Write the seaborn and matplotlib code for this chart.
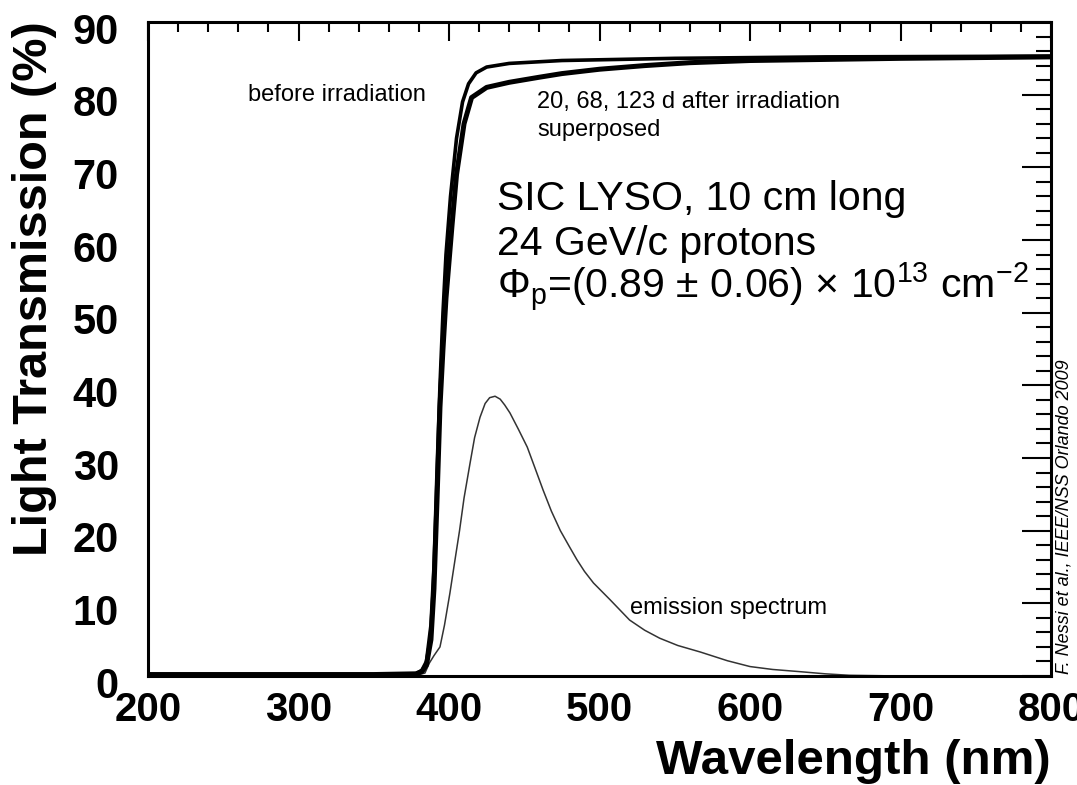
import matplotlib
matplotlib.use("Agg")
import matplotlib.pyplot as plt
from matplotlib.ticker import MultipleLocator
import matplotlib.transforms as mtransforms
import seaborn as sns
import pandas as pd

# ---- data ----
wl_before = [200, 250, 300, 350, 378, 382, 385, 388, 390, 392, 394, 396, 398, 401, 405, 409,
             413, 418, 425, 440, 475, 550, 650, 800]
tr_before = [0.2, 0.2, 0.2, 0.2, 0.3, 0.8, 2.0, 7.0, 15.0, 28.0, 40.0, 50.0, 58.0, 66.0, 74.0, 79.0,
             81.5, 83.0, 83.8, 84.3, 84.7, 85.0, 85.2, 85.3]

wl_after = [200, 250, 300, 350, 378, 382, 385, 388, 390, 392, 394, 396, 398, 402, 405, 410,
            415, 425, 440, 460, 475, 500, 530, 560, 600, 700, 800]
tr_after = [0.2, 0.2, 0.2, 0.2, 0.3, 0.6, 1.5, 5.0, 12.0, 24.0, 37.0, 45.0, 52.0, 62.0, 69.0, 76.0,
            79.6, 81.0, 81.7, 82.4, 82.9, 83.5, 84.0, 84.4, 84.7, 85.0, 85.2]

wl_emis = [200, 300, 370, 378, 384, 387, 390, 394, 397, 400.6, 404, 407, 410, 414, 417, 420.6, 424,
           427, 430.6, 434, 437, 440.5, 446, 452, 457, 462.5, 468, 474, 480, 485, 490, 496, 507,
           520, 530, 540, 552, 567, 585, 600, 615, 633, 650, 666, 700, 800]
em_emis = [0.0, 0.0, 0.0, 0.1, 0.4, 1.8, 2.8, 4.0, 7.0, 11.4, 16.0, 20.0, 24.5, 29.3, 32.8, 35.6, 37.5,
           38.3, 38.5, 38.1, 37.3, 36.2, 34.0, 31.5, 28.7, 25.6, 22.7, 20.0, 17.8, 16.0, 14.4, 12.8, 10.5,
           7.7, 6.3, 5.2, 4.2, 3.3, 2.1, 1.3, 0.9, 0.6, 0.3, 0.1, 0.0, 0.0]

x_ticks = [200, 300, 400, 500, 600, 700, 800]
y_ticks = [0, 10, 20, 30, 40, 50, 60, 70, 80, 90]

sns.set_style("white")
plt.rcParams['font.family'] = ['Liberation Sans', 'DejaVu Sans']
plt.rcParams['text.color'] = 'black'
plt.rcParams['xtick.color'] = 'black'
plt.rcParams['ytick.color'] = 'black'
plt.rcParams['mathtext.fontset'] = 'custom'
plt.rcParams['mathtext.rm'] = 'Liberation Sans'
plt.rcParams['mathtext.it'] = 'Liberation Sans:italic'

fig = plt.figure(figsize=(10.77, 7.85), dpi=100)
ax = fig.add_axes([148/1077, 1 - 676/785, (1051-148)/1077, (676-22)/785])

df_b = pd.DataFrame({"wl": wl_before, "tr": tr_before})
df_a = pd.DataFrame({"wl": wl_after, "tr": tr_after})
df_e = pd.DataFrame({"wl": wl_emis, "tr": em_emis})

sns.lineplot(data=df_e, x="wl", y="tr", ax=ax, color="#333333", linewidth=1.1)
sns.lineplot(data=df_b, x="wl", y="tr", ax=ax, color="black", linewidth=2.6)
sns.lineplot(data=df_a, x="wl", y="tr", ax=ax, color="black", linewidth=3.6)

ax.set_xlim(200, 800)
ax.set_ylim(0, 90)
ax.set_xticks(x_ticks)
ax.set_yticks(y_ticks)
ax.xaxis.set_minor_locator(MultipleLocator(20))
ax.yaxis.set_minor_locator(MultipleLocator(2))
ax.set_xticklabels([str(v) for v in x_ticks], fontsize=29, fontweight='bold', color='black')
ax.set_yticklabels([str(v) for v in y_ticks], fontsize=30, fontweight='bold', color='black')

ax.tick_params(axis='x', which='major', direction='in', length=14, width=1.5, top=True, pad=11)
ax.tick_params(axis='x', which='minor', direction='in', length=7, width=1.5, top=True)
ax.tick_params(axis='y', which='major', direction='in', length=21, width=1.5, right=True, pad=21)
ax.tick_params(axis='y', which='minor', direction='in', length=11, width=1.5, right=True)
offset = mtransforms.ScaledTranslation(0, -6/100, fig.dpi_scale_trans)
for lab in ax.get_yticklabels():
    lab.set_transform(lab.get_transform() + offset)
for s in ax.spines.values():
    s.set_linewidth(2.2)
    s.set_color("black")

ax.set_xlabel("")
ax.set_ylabel("")
fig.text(1051/1077, 1 - 761/785, "Wavelength (nm)", ha='right', va='center',
         fontsize=35.5, fontweight='bold')
fig.text(35/1077, 1 - 289/785, "Light Transmission (%)", ha='center', va='center',
         rotation=90, fontsize=35, fontweight='bold')

ax.text(266.4, 80.0, "before irradiation", fontsize=17, ha='left', va='center')
ax.text(458.5, 79.0, "20, 68, 123 d after irradiation", fontsize=17, ha='left', va='center')
ax.text(458.5, 75.1, "superposed", fontsize=17, ha='left', va='center')
ax.text(520.3, 9.4, "emission spectrum", fontsize=17, ha='left', va='center')

ax.text(431.9, 65.6, "SIC LYSO, 10 cm long", fontsize=29.5, ha='left', va='center')
ax.text(431.9, 59.5, "24 GeV/c protons", fontsize=29.5, ha='left', va='center')
ax.text(431.9, 53.6, r"$\Phi_{\rm p}$=(0.89 $\pm$ 0.06) $\times$ 10$^{13}$ cm$^{-2}$",
        fontsize=29.5, ha='left', va='center')

fig.text(1064/1077, 1 - 517/785, "F. Nessi et al., IEEE/NSS Orlando 2009", rotation=90,
         ha='center', va='center', fontsize=13, style='italic')

fig.savefig("out.png", dpi=100)
